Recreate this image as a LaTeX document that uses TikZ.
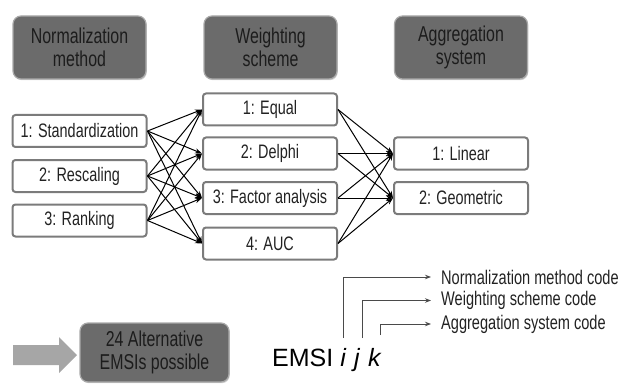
\documentclass[tikz,border=0pt]{standalone}
\usepackage{fontspec}
\setmainfont[FakeStretch=0.74]{Liberation Sans}
\newfontfamily\plainsans{Liberation Sans}
\usetikzlibrary{arrows.meta,shadows}
\definecolor{hdrfill}{HTML}{6B6B6B}
\definecolor{hdrline}{HTML}{A9A9A9}
\definecolor{hdrtext}{HTML}{1C1C1C}
\definecolor{boxline}{HTML}{7B7B7B}
\definecolor{boxtext}{HTML}{222222}
\definecolor{bigarrow}{HTML}{A6A6A6}
\definecolor{codeline}{HTML}{4A4A4A}
\tikzset{
  header/.style={draw=hdrline, line width=1.2pt, fill=hdrfill, rounded corners=8pt,
    minimum width=133pt, minimum height=63pt, align=center, text=hdrtext,
    font=\fontsize{21.5}{23}\selectfont, inner sep=0pt,
    drop shadow={shadow xshift=0.8pt, shadow yshift=-1.2pt, opacity=0.35}},
  option/.style={draw=boxline, line width=2pt, fill=white, rounded corners=3pt,
    minimum width=134pt, minimum height=32pt, text=boxtext,
    font=\fontsize{19.5}{21}\selectfont, inner sep=0pt},
  link/.style={draw=black, line width=1pt, -{Stealth[length=7pt,width=5pt]}},
  codelink/.style={draw=codeline, line width=0.9pt, -{Stealth[length=6pt,width=4.5pt]}},
  codelabel/.style={anchor=west, text=boxtext, font=\fontsize{19.7}{21}\selectfont, inner sep=0pt}
}
\begin{document}
\begin{tikzpicture}[x=1pt, y=-1pt]
\useasboundingbox (0,0) rectangle (621,385);

% column headers
\node[header] (hN) at (79.5,47.5) {Normalization\\method};
\node[header] (hW) at (270.5,47.5) {Weighting\\scheme};
\node[header] (hA) at (461,47.5) {Aggregation\\system};

% normalization methods
\node[option] (s1) at (79.5,131) {1: Standardization};
\node[option] (s2) at (79.5,176) {2: Rescaling};
\node[option] (s3) at (79.5,220.5) {3: Ranking};

% weighting schemes
\node[option] (m1) at (270,109.5) {1: Equal};
\node[option] (m2) at (270,153.5) {2: Delphi};
\node[option] (m3) at (270,198) {3: Factor analysis};
\node[option] (m4) at (270,243.5) {4: AUC};

% aggregation systems
\node[option] (r1) at (461,153.5) {1: Linear};
\node[option] (r2) at (461,198) {2: Geometric};

% every method feeds every weighting scheme
\foreach \s in {s1,s2,s3}
  \foreach \m in {m1,m2,m3,m4}
    \draw[link] (\s.east) -- (\m.west);

% every weighting scheme feeds every aggregation system
\foreach \m in {m1,m2,m3,m4}
  \foreach \r in {r1,r2}
    \draw[link] (\m.east) -- (\r.west);

% result box with the broad grey arrow
\fill[bigarrow] (13,345) -- (59,345) -- (59,337) -- (77,355) -- (59,373) -- (59,365) -- (13,365) -- cycle;
\node[header, minimum width=149pt, minimum height=59pt] (alt) at (154.5,352.5) {24 Alternative\\EMSIs possible};

% index code legend
\node[anchor=base west, inner sep=0pt, text=black, font=\plainsans\fontsize{25}{28}\selectfont] (emsi) at (272,366.5) {EMSI \itshape i\,\,j\,\,k};
\coordinate (iTop) at (343,338);
\coordinate (jTop) at (362,338);
\coordinate (kTop) at (380,335);
\node[codelabel] (cN) at (441,277) {Normalization method code};
\node[codelabel] (cW) at (441,300.5) {Weighting scheme code};
\node[codelabel] (cA) at (441,324) {Aggregation system code};
\draw[codelink] (iTop) |- ([xshift=-10pt]cN.west);
\draw[codelink] (jTop) |- ([xshift=-10pt]cW.west);
\draw[codelink] (kTop) |- ([xshift=-10pt]cA.west);
\end{tikzpicture}
\end{document}
